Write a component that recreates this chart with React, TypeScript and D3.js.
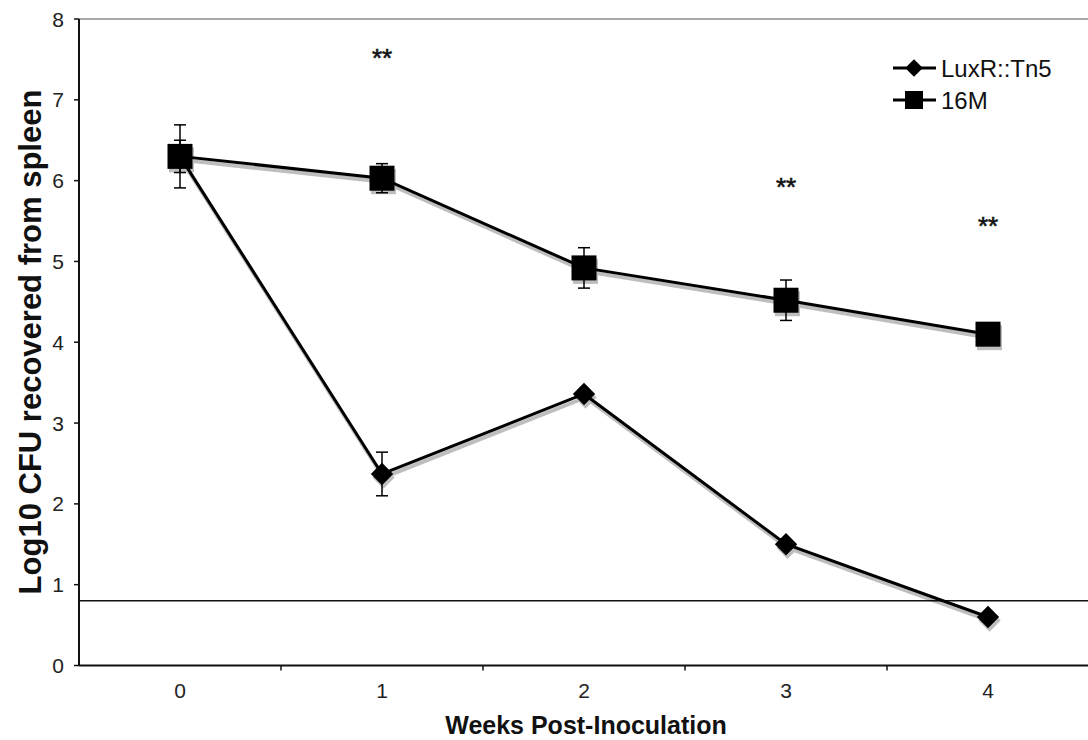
import React from "react";
import * as d3 from "d3";

const weeks = ["0", "1", "2", "3", "4"];
const luxValues = [6.3, 2.37, 3.36, 1.5, 0.6];
const luxErrors = [0.2, 0.27, 0, 0, 0];
const m16Values = [6.3, 6.03, 4.92, 4.52, 4.1];
const m16Errors = [0.39, 0.18, 0.25, 0.25, 0];
const yTicks = [0, 1, 2, 3, 4, 5, 6, 7, 8];
const detectionLimit = 0.8;
const starWeeks = ["1", "3", "4"];
const starValues = [7.63, 6.03, 5.55];
const seriesNames = ["LuxR::Tn5", "16M"];

const W = 1088;
const H = 740;
const left = 79;
const right = 1089;
const top = 19;
const bottom = 665.5;

export default function App() {
  const x = d3.scaleBand<string>().domain(weeks).range([left, right]).padding(0);
  const y = d3.scaleLinear().domain([0, 8]).range([bottom, top]);
  const cx = (w: string) => (x(w) as number) + x.bandwidth() / 2;
  const line = d3
    .line<number>()
    .x((_, i) => cx(weeks[i]))
    .y((d) => y(d));
  const font = "'Liberation Sans', Arial, Helvetica, sans-serif";
  const diamond = d3.symbol(d3.symbolDiamond2, 320)() as string;
  const sq = 25;

  const errBar = (vals: number[], errs: number[], key: string) =>
    vals.map((v, i) =>
      errs[i] > 0 ? (
        <g key={key + i} stroke="#000" strokeWidth={1.5}>
          <line x1={cx(weeks[i])} x2={cx(weeks[i])} y1={y(v + errs[i])} y2={y(v - errs[i])} />
          <line x1={cx(weeks[i]) - 6} x2={cx(weeks[i]) + 6} y1={y(v + errs[i])} y2={y(v + errs[i])} />
          <line x1={cx(weeks[i]) - 6} x2={cx(weeks[i]) + 6} y1={y(v - errs[i])} y2={y(v - errs[i])} />
        </g>
      ) : null
    );

  return (
    <svg width={W} height={H} style={{ position: "absolute", left: 0, top: 0, background: "#fff" }}>
      <rect x={0} y={0} width={W} height={H} fill="#fff" />
      {/* top frame */}
      <line x1={left} x2={right} y1={top} y2={top} stroke="#555" strokeWidth={1} />
      {/* detection limit */}
      <line x1={left} x2={right} y1={y(detectionLimit)} y2={y(detectionLimit)} stroke="#111" strokeWidth={1.5} />
      {/* y axis */}
      <line x1={left} x2={left} y1={top} y2={bottom} stroke="#111" strokeWidth={2} />
      {yTicks.map((t) => (
        <g key={"yt" + t}>
          <line x1={left - 5} x2={left} y1={y(t)} y2={y(t)} stroke="#111" strokeWidth={1.5} />
          <text x={64} y={y(t)} dy="0.36em" textAnchor="end" fontFamily={font} fontSize={21} fill="#222">
            {t}
          </text>
        </g>
      ))}
      {/* x axis */}
      <line x1={left} x2={right} y1={bottom} y2={bottom} stroke="#111" strokeWidth={2} />
      {weeks.map((w, i) => (
        <g key={"xt" + w}>
          {i > 0 && (
            <line
              x1={x(w) as number}
              x2={x(w) as number}
              y1={bottom}
              y2={bottom + 5}
              stroke="#111"
              strokeWidth={1.5}
            />
          )}
          <text x={cx(w)} y={698} textAnchor="middle" fontFamily={font} fontSize={21} fill="#222">
            {w}
          </text>
        </g>
      ))}
      <text x={586} y={734} textAnchor="middle" fontFamily={font} fontSize={25} fontWeight="bold" fill="#111">
        Weeks Post-Inoculation
      </text>
      <text
        transform={`translate(41, ${342}) rotate(-90)`}
        textAnchor="middle"
        fontFamily={font}
        fontSize={31}
        fontWeight="bold"
        fill="#111"
      >
        Log10 CFU recovered from spleen
      </text>

      {/* shadows */}
      <g transform="translate(1.5,3.5)" opacity={0.25}>
        <path d={line(luxValues) as string} fill="none" stroke="#000" strokeWidth={4} />
        <path d={line(m16Values) as string} fill="none" stroke="#000" strokeWidth={4} />
        {m16Values.map((v, i) => (
          <rect key={"ss" + i} x={cx(weeks[i]) - sq / 2} y={y(v) - sq / 2} width={sq} height={sq} fill="#000" />
        ))}
        {luxValues.map((v, i) => (
          <path key={"sd" + i} d={diamond} transform={`translate(${cx(weeks[i])},${y(v)})`} fill="#000" />
        ))}
      </g>

      {errBar(m16Values, m16Errors, "em")}
      {errBar(luxValues, luxErrors, "el")}

      <path d={line(luxValues) as string} fill="none" stroke="#000" strokeWidth={3} />
      <path d={line(m16Values) as string} fill="none" stroke="#000" strokeWidth={3} />
      {luxValues.map((v, i) => (
        <path key={"d" + i} d={diamond} transform={`translate(${cx(weeks[i])},${y(v)})`} fill="#000" />
      ))}
      {m16Values.map((v, i) => (
        <rect key={"s" + i} x={cx(weeks[i]) - sq / 2} y={y(v) - sq / 2} width={sq} height={sq} fill="#000" />
      ))}

      {starWeeks.map((w, i) => (
        <text
          key={"st" + w}
          x={cx(w)}
          y={y(starValues[i])}
          dy="0.7em"
          textAnchor="middle"
          fontFamily={font}
          fontSize={26}
          fill="#111"
          stroke="#111"
          strokeWidth={0.6}
        >
          **
        </text>
      ))}

      {/* legend */}
      {seriesNames.map((n, i) => {
        const ly = 68 + i * 32;
        return (
          <g key={"lg" + n}>
            <line x1={893} x2={936} y1={ly} y2={ly} stroke="#000" strokeWidth={3} />
            {i === 0 ? (
              <path d={d3.symbol(d3.symbolDiamond2, 200)() as string} transform={`translate(914,${ly})`} fill="#000" />
            ) : (
              <rect x={914 - 9} y={ly - 9} width={18} height={18} fill="#000" />
            )}
            <text x={941} y={ly} dy="0.36em" fontFamily={font} fontSize={24} fill="#111">
              {n}
            </text>
          </g>
        );
      })}
    </svg>
  );
}
